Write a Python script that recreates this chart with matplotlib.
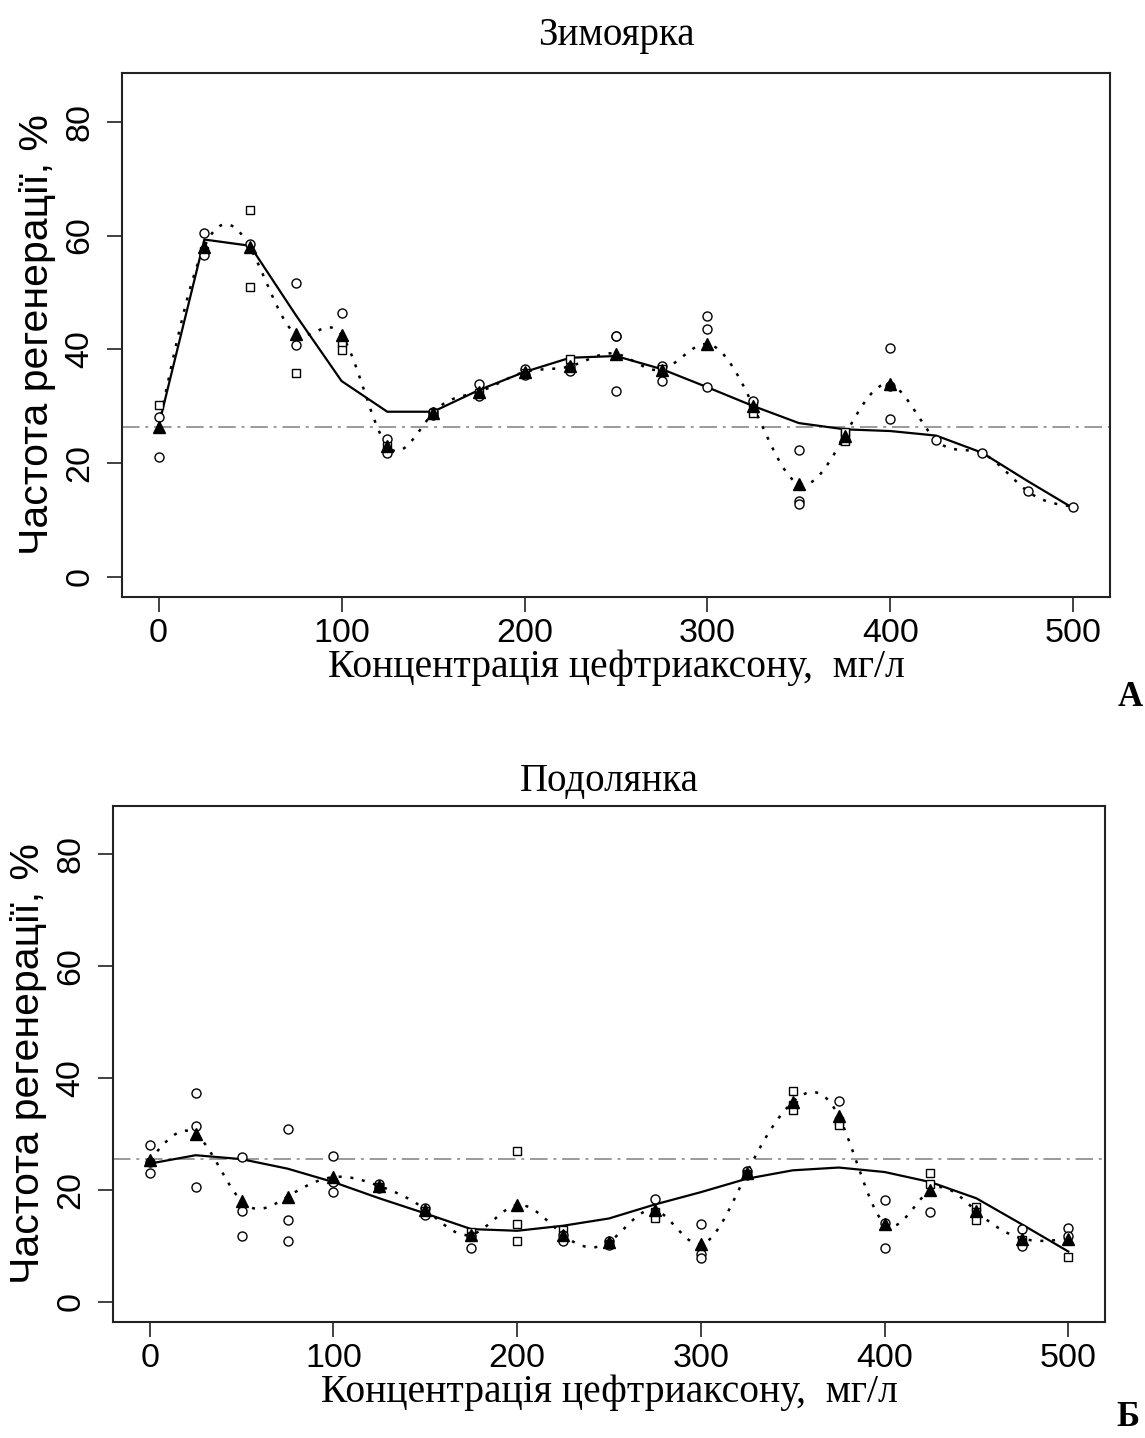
import numpy as np
import matplotlib
matplotlib.use("Agg")
import matplotlib.pyplot as plt

# ---------------- data ----------------
conc = [0, 25, 50, 75, 100, 125, 150, 175, 200, 225, 250, 275, 300,
        325, 350, 375, 400, 425, 450, 475, 500]

# Зимоярка (panel A)
zim_title = "Зимоярка"
zim_control = 26.3
zim_mean = [26.4, 58.0, 57.9, 42.7, 42.5, 23.0, 28.8, 32.5, 36.0, 37.0, 39.2,
            36.4, 40.9, 30.0, 16.3, 24.8, 33.8, 24.0, 21.7, 15.0, 12.3]
zim_mean_shown = [1, 1, 1, 1, 1, 1, 1, 1, 1, 1, 1, 1, 1, 1, 1, 1, 1, 0, 0, 0, 0]
zim_smooth = [26.5, 59.3, 58.2, 46.0, 34.4, 29.0, 29.0, 32.8, 36.0, 38.5, 38.8,
              36.5, 33.3, 30.0, 27.0, 25.9, 25.6, 24.8, 21.8, 16.8, 12.0]
zim_rep1 = [30.2, 60.4, 64.5, 51.7, 46.3, 24.2, 29.0, 33.8, 36.5, 38.2, 42.4,
            37.0, 45.8, 30.3, 22.2, 25.0, 40.2, 24.0, 21.7, 15.0, 12.3]
zim_rep2 = [28.0, 57.3, 51.0, 40.8, 41.1, 21.8, 28.5, 32.3, 35.8, 36.8, 42.4,
            36.6, 43.6, 28.8, 13.3, 23.9, 27.7, np.nan, np.nan, np.nan, np.nan]
zim_rep3 = [21.0, 56.5, 58.5, 35.8, 39.8, 23.0, 28.8, 31.8, 35.5, 36.2, 32.7,
            34.4, 33.3, 30.9, 12.8, 25.5, 33.5, np.nan, np.nan, np.nan, np.nan]
zim_mk1 = ["s", "o", "s", "o", "o", "o", "o", "o", "o", "s", "o",
           "o", "o", "s", "o", "s", "o", "o", "o", "o", "o"]
zim_mk2 = ["o", "s", "s", "o", "s", "o", "o", "s", "s", "o", "o",
           "s", "o", "s", "o", "s", "o", "o", "o", "o", "o"]
zim_mk3 = ["o", "o", "o", "s", "s", "s", "s", "o", "o", "o", "o",
           "o", "o", "o", "o", "s", "o", "o", "o", "o", "o"]

# Подолянка (panel Б)
pod_title = "Подолянка"
pod_control = 25.5
pod_mean = [25.3, 30.0, 18.0, 18.8, 22.3, 20.7, 16.5, 12.0, 17.3, 12.0, 10.7,
            16.4, 10.3, 23.0, 35.7, 33.2, 14.0, 20.0, 16.2, 11.3, 11.3]
pod_mean_shown = [1] * 21
pod_smooth = [24.7, 26.2, 25.5, 23.8, 21.4, 18.5, 15.8, 13.0, 12.7, 13.6, 14.9,
              17.4, 19.6, 22.0, 23.5, 24.0, 23.2, 21.4, 18.5, 13.8, 9.0]
pod_rep1 = [28.0, 37.3, 25.8, 30.8, 26.0, 21.0, 16.8, 12.5, 27.0, 12.8, 10.8,
            18.3, 14.0, 23.4, 37.6, 35.8, 18.2, 23.0, 17.0, 13.0, 13.2]
pod_rep2 = [23.0, 31.5, 16.2, 14.6, 21.4, 20.6, 16.2, 11.8, 13.9, 11.9, 10.4,
            16.0, 8.5, 22.8, 35.2, 32.3, 14.1, 16.0, 16.0, 10.0, 11.8]
pod_rep3 = [25.0, 20.6, 11.7, 10.8, 19.6, 20.3, 15.6, 9.6, 10.9, 10.8, 10.2,
            15.0, 7.8, 22.6, 34.3, 31.6, 9.7, 21.0, 14.6, 11.0, 8.0]
pod_mk1 = ["o", "o", "o", "o", "o", "o", "o", "s", "s", "s", "o",
           "o", "o", "o", "s", "o", "o", "s", "s", "o", "o"]
pod_mk2 = ["o", "o", "o", "o", "o", "s", "s", "o", "s", "o", "s",
           "s", "o", "s", "s", "s", "o", "o", "s", "o", "o"]
pod_mk3 = ["o", "o", "o", "o", "o", "o", "o", "o", "s", "o", "o",
           "s", "o", "o", "s", "s", "o", "s", "s", "s", "s"]

yticks = [0, 20, 40, 60, 80]
xticks = [0, 100, 200, 300, 400, 500]
xlabel = "Концентрація цефтриаксону,  мг/л"
ylabel = "Частота регенерації, %"


def natural_spline(x, y, xs):
    x = np.asarray(x, float)
    y = np.asarray(y, float)
    n = len(x)
    h = np.diff(x)
    A = np.zeros((n, n))
    b = np.zeros(n)
    A[0, 0] = 1.0
    A[-1, -1] = 1.0
    for i in range(1, n - 1):
        A[i, i - 1] = h[i - 1]
        A[i, i] = 2 * (h[i - 1] + h[i])
        A[i, i + 1] = h[i]
        b[i] = 3 * ((y[i + 1] - y[i]) / h[i] - (y[i] - y[i - 1]) / h[i - 1])
    c = np.linalg.solve(A, b)
    bb = (np.diff(y) / h) - h * (2 * c[:-1] + c[1:]) / 3
    d = np.diff(c) / (3 * h)
    idx = np.clip(np.searchsorted(x, xs) - 1, 0, n - 2)
    dx = xs - x[idx]
    return y[idx] + bb[idx] * dx + c[idx] * dx ** 2 + d[idx] * dx ** 3


SERIF = ["Liberation Serif", "DejaVu Serif"]
SANS = ["Liberation Sans", "DejaVu Sans"]

fig = plt.figure(figsize=(11.45, 14.38), dpi=100)
W, H = 1145, 1438


def add_ax(l, r, t, b):
    return fig.add_axes([l / W, 1 - b / H, (r - l) / W, (b - t) / H])


def panel(ax, title, control, mean, shown, smooth, reps, mks, letter, letter_xy, title_y):
    x = np.asarray(conc, float)
    ax.set_xlim(-20, 520)
    ax.set_ylim(-3.6, 88.6)
    ax.axhline(control, color="#9a9a9a", lw=1.4, ls=(0, (9, 3, 1.5, 3)), zorder=1)
    xs = np.linspace(0, 500, 600)
    ax.plot(xs, natural_spline(x, mean, xs), color="black", lw=1.8,
            ls=(0, (1.2, 3.5)), zorder=2)
    ax.plot(x, smooth, color="black", lw=1.6, zorder=3)
    for rv, mk in zip(reps, mks):
        for xi, yi, m in zip(x, rv, mk):
            if np.isnan(yi):
                continue
            ax.plot(xi, yi, marker=m, ms=6.5 if m == "o" else 5.8, mfc="white",
                    mec="black", mew=1.0, ls="none", zorder=4)
    mean_a = np.asarray(mean, float)
    sel = np.asarray(shown, bool)
    ax.plot(x[sel], mean_a[sel], marker="^", ms=8, color="black", ls="none", zorder=5)

    ax.set_xticks(xticks)
    ax.set_yticks(yticks)
    for lab in ax.get_xticklabels() + ax.get_yticklabels():
        lab.set_fontfamily(SANS)
        lab.set_fontsize(24.5)
    for lab in ax.get_yticklabels():
        lab.set_rotation(90)
        lab.set_va("center")
    ax.tick_params(axis="both", direction="out", length=11, width=1.3, color="#333333")
    ax.tick_params(axis="x", pad=4)
    ax.tick_params(axis="y", pad=8)
    for s in ax.spines.values():
        s.set_linewidth(1.5)
        s.set_color("#222222")
    ax.set_xlabel(xlabel, fontfamily=SERIF, fontsize=28.5, labelpad=0)
    ax.set_ylabel(ylabel, fontfamily=SANS, fontsize=29.5, labelpad=6)
    ax.set_title(title, fontfamily=SERIF, fontsize=28, pad=title_y)
    fig.text(letter_xy[0] / W, 1 - letter_xy[1] / H, letter, fontfamily=SERIF,
             fontsize=25, fontweight="bold", ha="center", va="center")


ax1 = add_ax(122, 1110, 73, 597)
panel(ax1, zim_title, zim_control, zim_mean, zim_mean_shown, zim_smooth,
      [zim_rep1, zim_rep2, zim_rep3], [zim_mk1, zim_mk2, zim_mk3],
      "А", (1130, 697), 20)

ax2 = add_ax(113, 1105, 806, 1322)
panel(ax2, pod_title, pod_control, pod_mean, pod_mean_shown, pod_smooth,
      [pod_rep1, pod_rep2, pod_rep3], [pod_mk1, pod_mk2, pod_mk3],
      "Б", (1128, 1418), 11)

fig.savefig("out.png", dpi=100)
